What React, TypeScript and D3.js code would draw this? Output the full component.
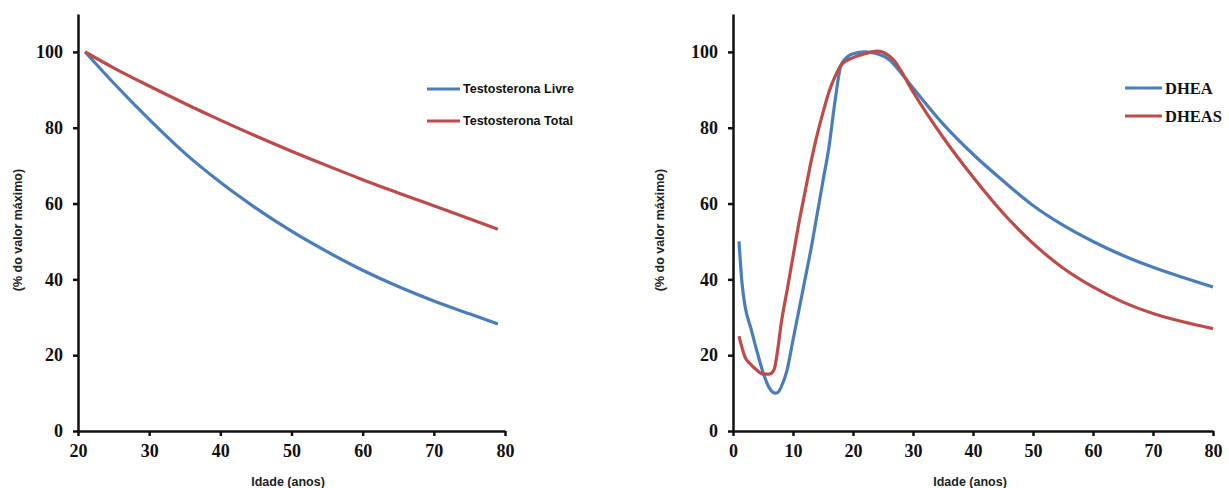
import React, { useEffect, useRef } from 'react';
import * as d3 from 'd3';

// Left panel: testosterone (% of max) by age
const ageTesto = [21, 25, 30, 35, 40, 45, 50, 55, 60, 65, 70, 75, 79];
const testoLivre = [100, 91.8, 82.2, 73.3, 65.6, 58.8, 52.7, 47.3, 42.4, 38.1, 34.3, 30.9, 28.2];
const testoTotal = [100, 95.8, 91, 86.4, 82, 77.8, 73.8, 70, 66.3, 62.8, 59.4, 56, 53.2];

// Right panel: DHEA / DHEAS (% of max) by age
const ageDhea = [1, 1.5, 2, 3, 4, 5, 6, 7, 7.5, 8, 9, 10, 11, 12, 13, 14, 15, 16, 17, 18, 19, 20, 22, 24, 26, 28, 30, 35, 40, 45, 50, 55, 60, 65, 70, 75, 80];
const dhea = [50, 39, 33, 27, 21, 15.5, 11.5, 10, 10.2, 11.5, 16, 24, 32, 40, 48, 57, 66, 75, 87, 96.5, 98.6, 99.5, 100, 99.5, 98, 94.5, 90.5, 81, 73, 66, 59.5, 54.3, 50, 46.3, 43.2, 40.5, 38];
const ageDheas = [1, 2, 3, 4, 5, 6, 6.8, 7.5, 8, 9, 10, 11, 12, 13, 14, 15, 16, 17, 18, 20, 22, 24, 26, 27, 28, 30, 35, 40, 45, 50, 55, 60, 65, 70, 75, 80];
const dheas = [25, 19.5, 17.5, 16, 15, 15, 16, 22, 28, 37, 46, 55, 63, 71, 78, 84, 89.5, 93.5, 96.5, 98.5, 99.5, 100.2, 99, 97.5, 95, 89.5, 77.5, 67, 57.5, 49.5, 43, 38, 34, 31, 28.8, 27];

const yTicks = [0, 20, 40, 60, 80, 100];
const xTicksLeft = [20, 30, 40, 50, 60, 70, 80];
const xTicksRight = [0, 10, 20, 30, 40, 50, 60, 70, 80];

const BLUE = '#4A7EBB';
const RED = '#BE4B48';

const serif = '"Liberation Serif", "Times New Roman", serif';
const sans = '"Liberation Sans", Arial, sans-serif';

export default function App() {
  const svgRef = useRef<SVGSVGElement>(null);

  useEffect(() => {
    const svg = d3.select(svgRef.current);
    svg.selectAll('*').remove();

    const y = d3.scaleLinear().domain([0, 110]).range([431, 14]);

    const panel = (opts: {
      x: d3.ScaleLinear<number, number>;
      xTicks: number[];
      series: { ages: number[]; vals: number[]; color: string }[];
      titleX: number;
      ytitleX: number;
      legend: { x: number; ys: number[]; labels: string[]; font: string; size: number; lineLen: number };
    }) => {
      const { x } = opts;
      const g = svg.append('g');
      const x0 = x.range()[0];

      const yAxis = g.append('g')
        .attr('transform', `translate(${x0},0)`)
        .call(d3.axisLeft(y).tickValues(yTicks).tickSize(5).tickSizeOuter(0).tickPadding(10).tickFormat(d3.format('d')));
      const xAxis = g.append('g')
        .attr('transform', `translate(0,${y(0)})`)
        .call(d3.axisBottom(x).tickValues(opts.xTicks).tickSize(5).tickSizeOuter(0).tickPadding(8).tickFormat(d3.format('d')));

      [yAxis, xAxis].forEach(a => {
        a.select('.domain').attr('stroke', '#111').attr('stroke-width', 2.5);
        a.selectAll('.tick line').attr('stroke', '#111').attr('stroke-width', 2.5);
        a.selectAll('.tick text')
          .attr('fill', '#111')
          .style('font-family', serif)
          .style('font-weight', 'bold')
          .style('font-size', '18px');
      });

      const line = d3.line<[number, number]>()
        .x(d => x(d[0]))
        .y(d => y(d[1]))
        .curve(d3.curveMonotoneX);

      opts.series.forEach(s => {
        g.append('path')
          .datum(s.ages.map((a, i) => [a, s.vals[i]] as [number, number]))
          .attr('d', line)
          .attr('fill', 'none')
          .attr('stroke', s.color)
          .attr('stroke-width', 3.2)
          .attr('stroke-linejoin', 'round');
      });

      g.append('text')
        .attr('transform', `translate(${opts.ytitleX},230) rotate(-90)`)
        .attr('text-anchor', 'middle')
        .attr('dy', '0.35em')
        .style('font-family', sans)
        .style('font-weight', 'bold')
        .style('font-size', '12.5px')
        .attr('fill', '#222')
        .text('(% do valor máximo)');

      g.append('text')
        .attr('x', opts.titleX)
        .attr('y', 486)
        .attr('text-anchor', 'middle')
        .style('font-family', sans)
        .style('font-weight', 'bold')
        .style('font-size', '12.5px')
        .attr('fill', '#222')
        .text('Idade (anos)');

      const lg = opts.legend;
      opts.series.forEach((s, i) => {
        g.append('line')
          .attr('x1', lg.x).attr('x2', lg.x + lg.lineLen)
          .attr('y1', lg.ys[i]).attr('y2', lg.ys[i])
          .attr('stroke', s.color)
          .attr('stroke-width', 3.2);
        g.append('text')
          .attr('x', lg.x + lg.lineLen + 3)
          .attr('y', lg.ys[i])
          .attr('dy', '0.35em')
          .style('font-family', lg.font)
          .style('font-weight', 'bold')
          .style('font-size', `${lg.size}px`)
          .attr('fill', '#111')
          .text(lg.labels[i]);
      });
    };

    panel({
      x: d3.scaleLinear().domain([20, 80]).range([78, 505]),
      xTicks: xTicksLeft,
      series: [
        { ages: ageTesto, vals: testoLivre, color: BLUE },
        { ages: ageTesto, vals: testoTotal, color: RED },
      ],
      titleX: 288,
      ytitleX: 18,
      legend: { x: 427, ys: [89, 121], labels: ['Testosterona Livre', 'Testosterona Total'], font: sans, size: 12.5, lineLen: 33 },
    });

    panel({
      x: d3.scaleLinear().domain([0, 80]).range([733, 1213]),
      xTicks: xTicksRight,
      series: [
        { ages: ageDhea, vals: dhea, color: BLUE },
        { ages: ageDheas, vals: dheas, color: RED },
      ],
      titleX: 970,
      ytitleX: 660,
      legend: { x: 1125, ys: [88, 116], labels: ['DHEA', 'DHEAS'], font: serif, size: 16.5, lineLen: 37 },
    });
  }, []);

  return (
    <svg
      ref={svgRef}
      width={1229}
      height={488}
      style={{ position: 'absolute', left: 0, top: 0, background: '#fff' }}
    />
  );
}
